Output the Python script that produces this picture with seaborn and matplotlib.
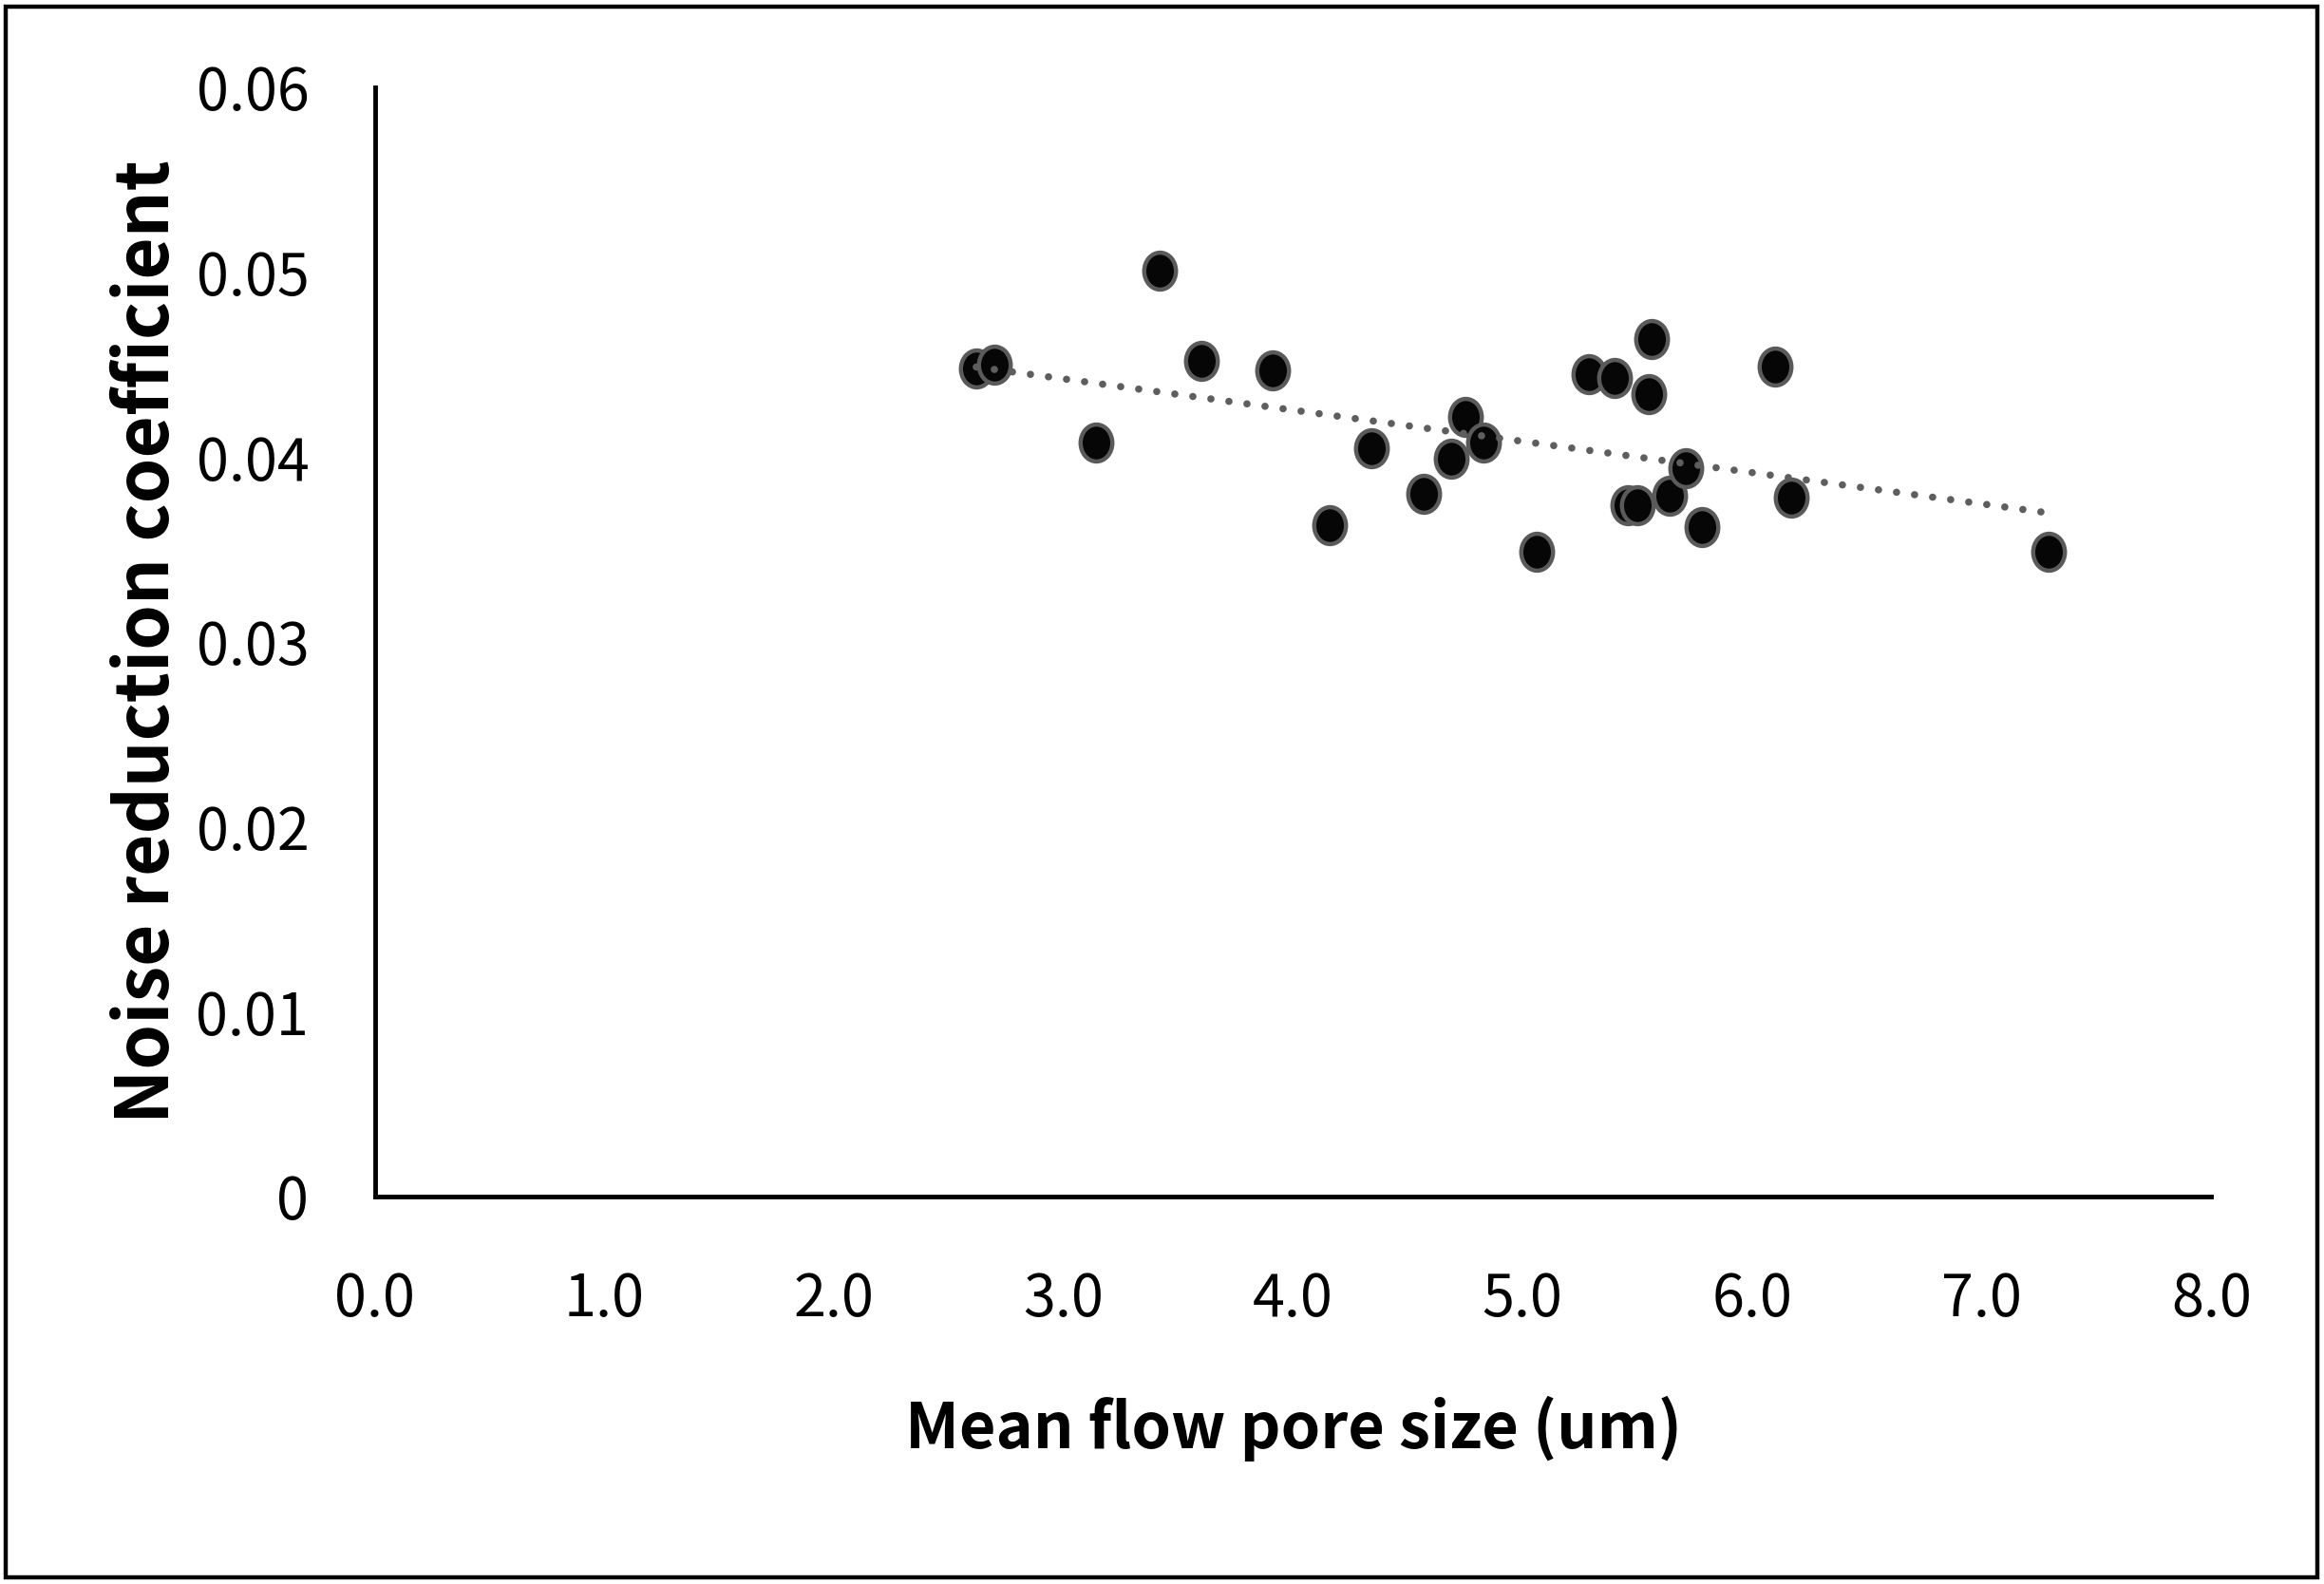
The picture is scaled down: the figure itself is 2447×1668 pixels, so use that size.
import numpy as np
import pandas as pd
import matplotlib
matplotlib.use("Agg")
import matplotlib.pyplot as plt
from matplotlib.path import Path
from matplotlib.patches import Rectangle
import seaborn as sns

# ---- data ----
pore_size = [2.62, 2.70, 3.14, 3.42, 3.60, 3.91, 4.16, 4.34, 4.57, 4.69,
             4.75, 4.83, 5.06, 5.29, 5.40, 5.46, 5.50, 5.56, 5.55, 5.64,
             5.71, 5.78, 6.10, 6.17, 7.29]
nrc = [0.0448, 0.0450, 0.0408, 0.0501, 0.0452, 0.0447, 0.0363, 0.0405, 0.0380, 0.0399,
       0.0422, 0.0408, 0.0349, 0.0445, 0.0443, 0.0374, 0.0374, 0.0464, 0.0434, 0.0379,
       0.0394, 0.0362, 0.0449, 0.0378, 0.0349]
x_ticks = [0, 1, 2, 3, 4, 5, 6, 7, 8]
x_tick_labels = ["0.0", "1.0", "2.0", "3.0", "4.0", "5.0", "6.0", "7.0", "8.0"]
y_ticks = [0, 0.01, 0.02, 0.03, 0.04, 0.05, 0.06]
y_tick_labels = ["0", "0.01", "0.02", "0.03", "0.04", "0.05", "0.06"]
x_label = "Mean flow pore size (um)"
y_label = "Noise reduction coefficient"

df = pd.DataFrame({"pore": pore_size, "nrc": nrc})

sns.set_theme(style="white")
plt.rcParams["font.family"] = ["Noto Sans CJK KR", "DejaVu Sans"]
plt.rcParams["text.color"] = "black"
plt.rcParams["axes.labelcolor"] = "black"

fig = plt.figure(figsize=(24.47, 16.68), dpi=100)
ax = fig.add_axes([0.1613, 0.2446, 0.9515 - 0.1613, 0.9448 - 0.2446])

# slightly tall ellipse marker
circ = Path.unit_circle()
ell = Path(circ.vertices * np.array([0.86, 1.0]), circ.codes)

sns.regplot(data=df, x="pore", y="nrc", scatter=False, ci=None, ax=ax,
            line_kws=dict(color="#5e5e5e", lw=5.5, linestyle=(0, (0.01, 2.5)),
                          dash_capstyle="round", zorder=1))
sns.scatterplot(data=df, x="pore", y="nrc", ax=ax, marker=ell, s=784,
                color="#060606", edgecolor="#5a5a5a", linewidth=3.2, zorder=2)
for ln in ax.lines:
    ln.set_zorder(3)

ax.set_xlim(0, 8)
ax.set_ylim(0, 0.06)
ax.set_xticks(x_ticks)
ax.set_xticklabels(x_tick_labels)
ax.set_yticks(y_ticks)
ax.set_yticklabels(y_tick_labels)
ax.tick_params(axis="both", length=0, labelsize=44, colors="black")
ax.tick_params(axis="x", pad=56)
ax.tick_params(axis="y", pad=50)

for side in ["top", "right"]:
    ax.spines[side].set_visible(False)
for side in ["left", "bottom"]:
    ax.spines[side].set_color("black")
    ax.spines[side].set_linewidth(3.5)
ax.grid(False)

ax.set_xlabel(x_label, fontsize=48, fontweight="bold", labelpad=50, color="black")
ax.set_ylabel(y_label, fontsize=55, fontweight="bold", labelpad=9, color="black")

# outer frame
fig.patches.append(Rectangle((0.0025, 0.004), 0.9945, 0.992, transform=fig.transFigure,
                             fill=False, edgecolor="black", linewidth=3.2))

fig.savefig("out.png", dpi=100, facecolor="white")
